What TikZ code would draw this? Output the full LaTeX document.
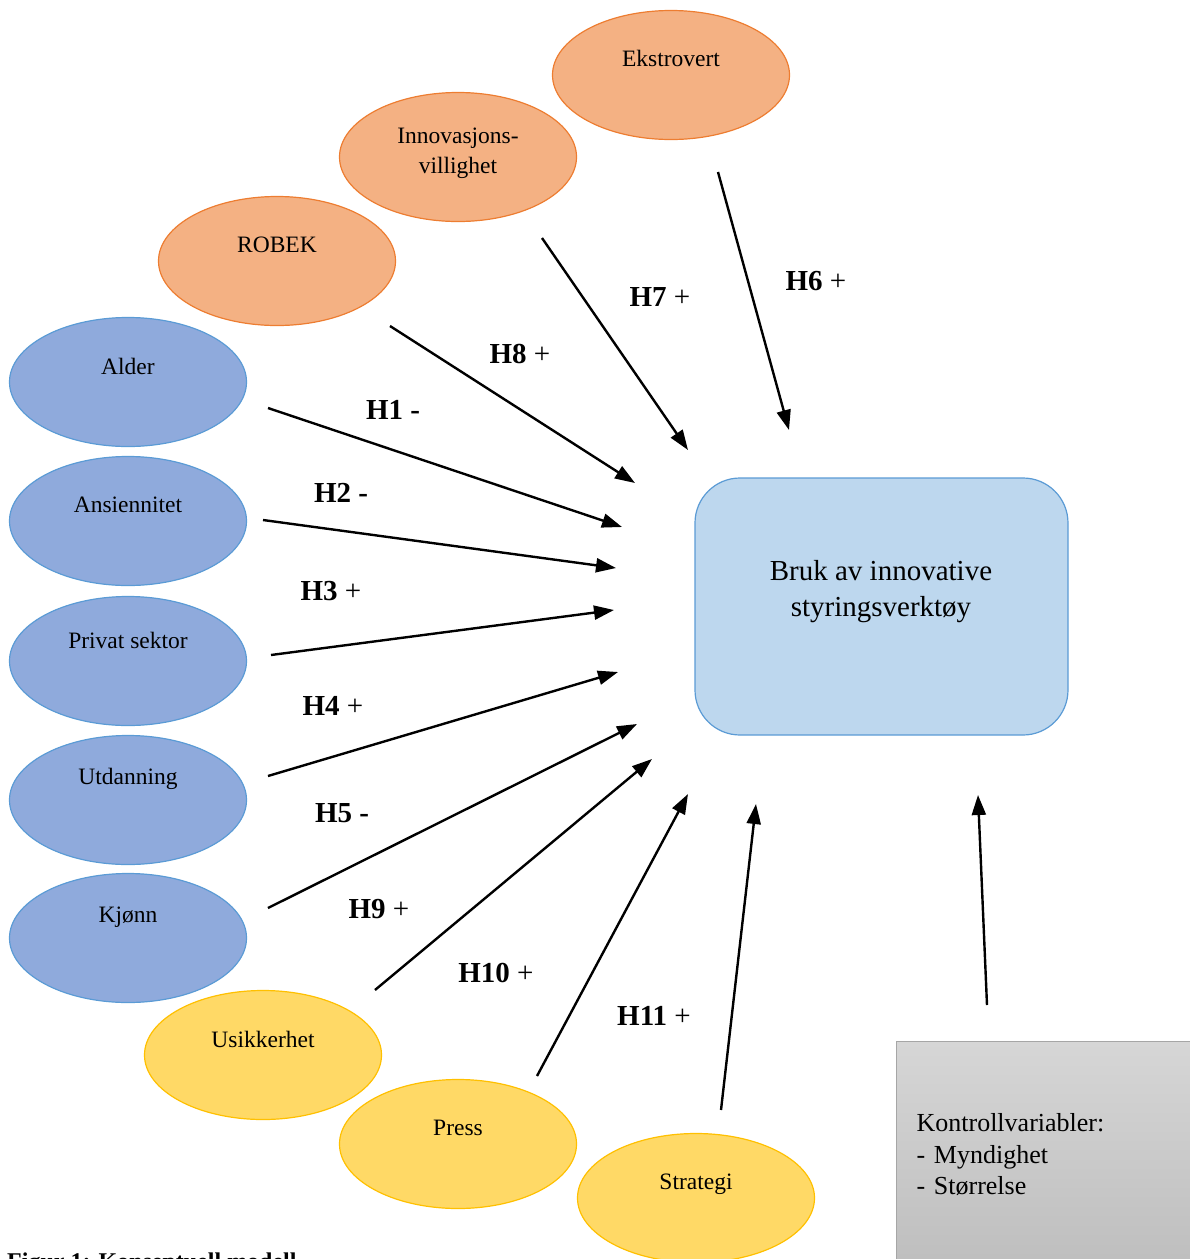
\documentclass[tikz,border=0pt]{standalone}
\usepackage{fontspec}
\setmainfont{Liberation Serif}
\usetikzlibrary{shapes.geometric,arrows.meta}
\definecolor{orfill}{HTML}{F4B183}
\definecolor{ordraw}{HTML}{ED7D31}
\definecolor{blfill}{HTML}{8FAADC}
\definecolor{bldraw}{HTML}{5B9BD5}
\definecolor{yefill}{HTML}{FFD966}
\definecolor{yedraw}{HTML}{FFC000}
\definecolor{boxfill}{HTML}{BDD7EE}
\definecolor{graytop}{HTML}{D6D6D6}
\definecolor{graybot}{HTML}{BEBEBE}
\definecolor{grayline}{HTML}{A6A6A6}
\tikzset{
  oval/.style={ellipse, minimum width=237pt, minimum height=129pt, inner sep=0pt, line width=1.2pt},
  orov/.style={oval, fill=orfill, draw=ordraw},
  blov/.style={oval, fill=blfill, draw=bldraw},
  yeov/.style={oval, fill=yefill, draw=yedraw},
  lab/.style={font=\fontsize{23.5}{30}\selectfont, align=center, inner sep=0pt},
  hyp/.style={font=\fontsize{29}{34}\selectfont, inner sep=0pt},
  arr/.style={line width=2.4pt, -{Triangle[length=20pt,width=14pt]}},
}
\begin{document}
\begin{tikzpicture}[x=1pt,y=-1pt]
\useasboundingbox (0,0) rectangle (1190,1259);
% main box
\node[draw=bldraw, fill=boxfill, line width=1.2pt, rounded corners=45pt,
      minimum width=373pt, minimum height=257pt, inner sep=0pt] (main) at (881.5,606.5) {};
\node[font=\fontsize{29}{36}\selectfont, align=center, inner sep=0pt] (maintxt) at (881,592)
  {Bruk av innovative\\styringsverktøy};
% control box
\node[anchor=north west, rectangle, draw=grayline, line width=1.2pt,
      top color=graytop, bottom color=graybot,
      minimum width=310pt, minimum height=226pt, inner xsep=20pt, inner ysep=0pt,
      text width=270pt, align=left, font=\fontsize{26}{31.5}\selectfont] (kontroll) at (896,1041)
  {Kontrollvariabler:\\-~Myndighet\\-~Størrelse};
% ellipses
\node[orov, label={[lab, yshift=17pt]center:Ekstrovert}] (ekstro) at (671,75) {};
\node[orov, label={[lab, yshift=4pt]center:Innovasjons-\\villighet}] (innov) at (458,157) {};
\node[orov, label={[lab, yshift=16pt]center:ROBEK}] (robek) at (277,261) {};
\node[blov, label={[lab, yshift=16pt]center:Alder}] (alder) at (128,382) {};
\node[blov, label={[lab, yshift=16pt]center:Ansiennitet}] (ansien) at (128,521) {};
\node[blov, label={[lab, yshift=21pt]center:Privat sektor}] (privat) at (128,661) {};
\node[blov, label={[lab, yshift=21pt]center:Utdanning}] (utdan) at (128,800) {};
\node[blov, label={[lab, yshift=21pt]center:Kjønn}] (kjonn) at (128,938) {};
\node[yeov, label={[lab, yshift=16pt]center:Usikkerhet}] (usikk) at (263,1055) {};
\node[yeov, label={[lab, yshift=16pt]center:Press}] (press) at (458,1144) {};
\node[yeov, label={[lab, yshift=14pt]center:Strategi}] (strat) at (696,1198) {};
% arrow end points
\coordinate (s6) at (718,172);  \coordinate (e6) at (789,430);
\coordinate (s7) at (542,238);  \coordinate (e7) at (688,450);
\coordinate (s8) at (390,326);  \coordinate (e8) at (635,483);
\coordinate (s1) at (268,408);  \coordinate (e1) at (622,527);
\coordinate (s2) at (263,520);  \coordinate (e2) at (616,568);
\coordinate (s3) at (271,655);  \coordinate (e3) at (614,610);
\coordinate (s4) at (268,776);  \coordinate (e4) at (618,672);
\coordinate (s5) at (268,908);  \coordinate (e5) at (637,724);
\coordinate (s9) at (375,990);  \coordinate (e9) at (652,759);
\coordinate (s10) at (537,1076); \coordinate (e10) at (688,794);
\coordinate (s11) at (721,1110); \coordinate (e11) at (756,804);
\coordinate (sk) at (987,1005); \coordinate (ek) at (978,795);
\foreach \i in {6,7,8,1,2,3,4,5,9,10,11,k} {\draw[arr] (s\i) -- (e\i);}
% labels
\node[hyp] (h6) at (816,281) {\textbf{H6} +};
\node[hyp] (h7) at (660,297) {\textbf{H7} +};
\node[hyp] (h8) at (520,354) {\textbf{H8} +};
\node[hyp] (h1) at (393,410) {\textbf{H1 -}};
\node[hyp] (h2) at (341,493) {\textbf{H2 -}};
\node[hyp] (h3) at (331,591) {\textbf{H3} +};
\node[hyp] (h4) at (333,706) {\textbf{H4} +};
\node[hyp] (h5) at (342,813) {\textbf{H5 -}};
\node[hyp] (h9) at (379,909) {\textbf{H9} +};
\node[hyp] (h10) at (496,973) {\textbf{H10} +};
\node[hyp] (h11) at (654,1016) {\textbf{H11} +};
% caption (cut off by the page edge, as in the reference)
\node[anchor=base west, inner sep=0pt, font=\fontsize{24}{28}\selectfont\bfseries] (cap) at (7,1269)
  {Figur 1: Konseptuell modell};
\end{tikzpicture}
\end{document}
